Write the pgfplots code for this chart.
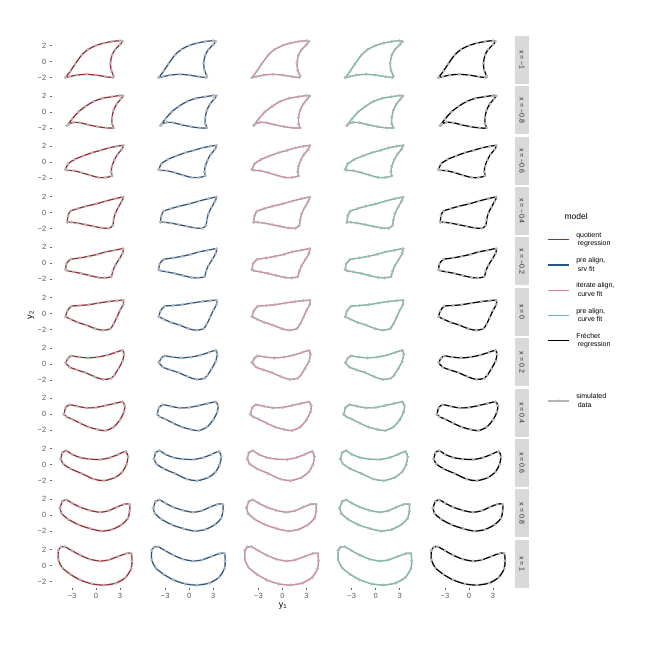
\documentclass[border=0pt]{standalone}
\usepackage{fontspec}
\setmainfont{Liberation Sans}
\usepackage{pgfplots}
\usepackage{pgfplotstable}
\pgfplotsset{compat=1.18}

\definecolor{quot}{RGB}{165,35,45}
\definecolor{srv}{RGB}{35,85,135}
\definecolor{iter}{RGB}{222,130,150}
\definecolor{curv}{RGB}{105,192,170}
\definecolor{simd}{RGB}{180,180,180}
\definecolor{strip}{RGB}{217,217,217}

% one closed outline per level of x
\pgfplotstableread{
x y
-3.8 -2.0
-3.2 -1.2
-2.6 -0.3
-1.8 0.8
-1.0 1.5
0.0 2.0
1.0 2.3
2.0 2.5
3.0 2.6
3.3 2.5
3.0 2.1
2.4 1.5
2.0 0.8
1.8 -0.2
1.9 -1.1
2.2 -1.8
2.1 -2.0
1.2 -1.9
0.0 -1.7
-1.2 -1.6
-2.4 -1.7
-3.3 -1.9
-3.8 -2.0
}\shapeA
\pgfplotstableread{
x y
-3.6 -1.7
-3.0 -0.9
-2.2 0.0
-1.3 0.7
-0.3 1.3
0.8 1.7
2.0 1.9
3.0 2.05
3.4 2.0
3.1 1.6
2.6 1.0
2.2 0.2
2.0 -0.7
2.0 -1.5
2.2 -2.0
1.3 -2.0
0.2 -1.85
-1.0 -1.6
-2.0 -1.35
-2.8 -1.3
-3.4 -1.5
-3.6 -1.7
}\shapeB
\pgfplotstableread{
x y
-3.8 -0.9
-3.5 -0.2
-2.7 0.35
-1.6 0.8
-0.5 1.2
0.6 1.5
1.6 1.8
2.6 2.0
3.4 2.1
3.2 1.6
2.7 1.0
2.3 0.3
2.0 -0.5
1.9 -1.2
2.0 -1.7
1.2 -1.9
0.3 -1.9
-0.8 -1.6
-1.8 -1.3
-2.8 -1.05
-3.6 -1.0
-3.8 -0.9
}\shapeC
\pgfplotstableread{
x y
-3.6 -1.2
-3.5 -0.4
-3.2 0.2
-2.3 0.5
-1.3 0.8
0.0 1.1
1.2 1.45
2.4 1.75
3.4 1.95
3.2 1.4
2.8 0.7
2.4 -0.1
2.2 -0.9
2.1 -1.6
1.6 -1.95
0.7 -1.9
-0.3 -1.7
-1.3 -1.5
-2.3 -1.3
-3.1 -1.2
-3.6 -1.2
}\shapeD
\pgfplotstableread{
x y
-3.8 -0.8
-3.7 -0.1
-3.2 0.45
-2.0 0.65
-0.9 0.85
0.2 1.1
1.2 1.4
2.3 1.6
3.4 1.8
3.3 1.2
2.9 0.5
2.4 -0.3
2.1 -1.0
1.9 -1.7
1.1 -1.85
0.3 -1.8
-0.8 -1.55
-1.8 -1.3
-2.8 -1.1
-3.6 -0.95
-3.8 -0.8
}\shapeE
\pgfplotstableread{
x y
-3.8 -0.4
-3.6 0.3
-3.1 0.9
-2.0 1.0
-0.9 1.1
0.3 1.3
1.6 1.5
2.6 1.6
3.4 1.65
3.4 1.1
3.0 0.4
2.6 -0.5
2.2 -1.3
1.8 -1.9
0.9 -2.1
-0.1 -1.9
-1.2 -1.45
-2.3 -1.1
-3.2 -0.7
-3.8 -0.4
}\shapeF
\pgfplotstableread{
x y
-3.8 0.15
-3.5 0.7
-3.1 1.0
-2.1 0.85
-1.0 0.75
0.2 0.85
1.4 1.1
2.5 1.45
3.3 1.7
3.5 1.2
3.3 0.3
2.8 -0.6
2.3 -1.4
1.9 -1.8
0.9 -1.95
-0.2 -1.6
-1.3 -1.1
-2.4 -0.75
-3.3 -0.4
-3.8 0.15
}\shapeG
\pgfplotstableread{
x y
-4.0 0.0
-3.8 0.8
-3.3 1.2
-2.3 1.0
-1.2 0.8
0.0 0.85
1.2 1.1
2.3 1.35
3.3 1.55
3.6 1.1
3.5 0.3
3.0 -0.7
2.2 -1.6
1.2 -2.05
0.2 -1.9
-0.9 -1.6
-2.0 -1.1
-3.0 -0.6
-3.7 -0.3
-4.0 0.0
}\shapeH
\pgfplotstableread{
x y
-4.4 0.7
-4.2 1.5
-3.7 1.75
-3.0 1.3
-2.0 0.9
-0.8 0.7
0.6 0.65
1.8 0.9
2.8 1.3
3.7 1.65
4.0 1.0
3.8 0.0
3.3 -0.9
2.4 -1.6
1.0 -2.0
-0.3 -1.8
-1.8 -1.1
-3.2 -0.5
-4.1 0.1
-4.4 0.7
}\shapeI
\pgfplotstableread{
x y
-4.5 0.9
-4.2 1.7
-3.7 1.9
-3.0 1.5
-2.0 1.0
-0.8 0.6
0.5 0.35
1.6 0.55
2.6 1.0
3.5 1.35
4.2 1.35
4.2 0.5
4.0 -0.4
3.2 -1.2
2.0 -1.8
0.7 -2.0
-0.7 -1.7
-2.2 -1.2
-3.5 -0.5
-4.3 0.2
-4.5 0.9
}\shapeJ
\pgfplotstableread{
x y
-4.7 1.9
-4.4 2.3
-3.9 2.35
-3.0 1.85
-2.0 1.3
-0.8 0.8
0.5 0.55
1.6 0.7
2.8 1.15
3.8 1.5
4.4 1.5
4.5 0.6
4.4 -0.4
3.7 -1.5
2.5 -2.2
1.0 -2.45
-0.5 -2.3
-2.0 -1.8
-3.2 -1.1
-4.2 -0.3
-4.7 0.7
-4.7 1.9
}\shapeK

\pgfplotsset{
  m0/.style={color=quot, line width=1.05pt},
  m1/.style={color=srv, line width=1.05pt},
  m2/.style={color=iter, line width=1.05pt},
  m3/.style={color=curv, line width=1.05pt},
  m4/.style={color=black, line width=1.15pt},
  xl0/.style={xtick=\empty},
  xl1/.style={xtick={-3,0,3}, xticklabels={−3,0,3}},
  yl0/.style={ytick=\empty},
  yl1/.style={ytick={-2,0,2}, yticklabels={−2,0,2}},
  panel/.style={
    scale only axis, width=88.8pt, height=48pt,
    xmin=-5.5, xmax=5.6, ymin=-2.8, ymax=3.2,
    axis x line*=bottom, axis y line*=left,
    axis line style={draw=none},
    tick align=outside, major tick length=2.2pt,
    tick style={black!60, line width=0.6pt},
    tick label style={font=\fontsize{7.5}{8}\selectfont, text=black!65},
    anchor=south west, clip=false},
  datastyle/.style={color=simd, line width=1.35pt, mark=*, mark size=0.7pt,
    mark options={fill=simd, draw=simd}},
}

\newcommand{\panelrow}[3]{%
  \pgfmathsetmacro\yb{650-(61.5+50.4*(#1-1)+22.4)}
  \pgfmathtruncatemacro\xlab{#1==11?1:0}
  \foreach \c in {0,...,4}{%
    \pgfmathsetmacro\xl{52+93.25*\c}
    \pgfmathtruncatemacro\ylab{\c==0?1:0}
    \begin{axis}[panel, at={(\xl pt,\yb pt)}, xl\xlab, yl\ylab]
      \addplot[datastyle] table {#2};
      \addplot[m\c, smooth, tension=0.55] table {#2};
    \end{axis}
  }
  \node[fill=strip, rotate=-90, minimum width=48pt, minimum height=14pt,
    inner sep=0pt, font=\fontsize{7}{8}\selectfont, text=black!85]
    at (522pt,\yb pt+24pt) {#3};
}

\begin{document}
\begin{tikzpicture}
\path[use as bounding box] (0,0) rectangle (650pt,650pt);

\panelrow{1}{\shapeA}{x = −1}
\panelrow{2}{\shapeB}{x = −0.8}
\panelrow{3}{\shapeC}{x = −0.6}
\panelrow{4}{\shapeD}{x = −0.4}
\panelrow{5}{\shapeE}{x = −0.2}
\panelrow{6}{\shapeF}{x = 0}
\panelrow{7}{\shapeG}{x = 0.2}
\panelrow{8}{\shapeH}{x = 0.4}
\panelrow{9}{\shapeI}{x = 0.6}
\panelrow{10}{\shapeJ}{x = 0.8}
\panelrow{11}{\shapeK}{x = 1}

\node[rotate=90, font=\fontsize{9}{10}\selectfont] at (31pt,335pt) {y\textsubscript{2}};
\node[font=\fontsize{9}{10}\selectfont] at (283pt,44pt) {y\textsubscript{1}};
\node[anchor=west, font=\fontsize{8.5}{9}\selectfont] at (561pt,433.5pt) {model};

\begin{axis}[hide axis, scale only axis, width=1pt, height=1pt,
  xmin=0, xmax=1, ymin=0, ymax=1, at={(547pt,420pt)}, anchor=south west,
  legend image code/.code={\draw[#1] (0pt,0pt) -- (21pt,0pt);},
  legend cell align=left,
  legend style={draw=none, fill=none, at={(0,0)}, anchor=north west,
    inner sep=0pt, row sep=6.2pt, column sep=5pt,
    font=\fontsize{7}{8.5}\selectfont,
    cells={align=left, anchor=west}}]
  \addlegendimage{quot, line width=1.1pt}
  \addlegendentry{quotient\\\hspace{1.5pt}regression}
  \addlegendimage{srv, line width=1.1pt}
  \addlegendentry{pre align,\\\hspace{1.5pt}srv fit}
  \addlegendimage{iter, line width=1.1pt}
  \addlegendentry{iterate align,\\\hspace{1.5pt}curve fit}
  \addlegendimage{curv, line width=1.1pt}
  \addlegendentry{pre align,\\\hspace{1.5pt}curve fit}
  \addlegendimage{black, line width=1.1pt}
  \addlegendentry{Fréchet\\\hspace{1.5pt}regression}
\end{axis}

\begin{axis}[hide axis, scale only axis, width=1pt, height=1pt,
  xmin=0, xmax=1, ymin=0, ymax=1, at={(547pt,249pt)}, anchor=south west,
  legend image code/.code={\draw[mark repeat=2, mark phase=2, #1]
    plot coordinates {(0pt,0pt) (10.5pt,0pt) (21pt,0pt)};},
  legend cell align=left,
  legend style={draw=none, fill=none, at={(0,0)}, anchor=west,
    inner sep=0pt, column sep=5pt,
    font=\fontsize{7}{8.5}\selectfont,
    cells={align=left, anchor=west}}]
  \addlegendimage{simd, line width=1.1pt, mark=*, mark size=0.9pt, mark options={fill=simd, draw=simd}}
  \addlegendentry{simulated\\\hspace{1.5pt}data}
\end{axis}
\end{tikzpicture}
\end{document}
